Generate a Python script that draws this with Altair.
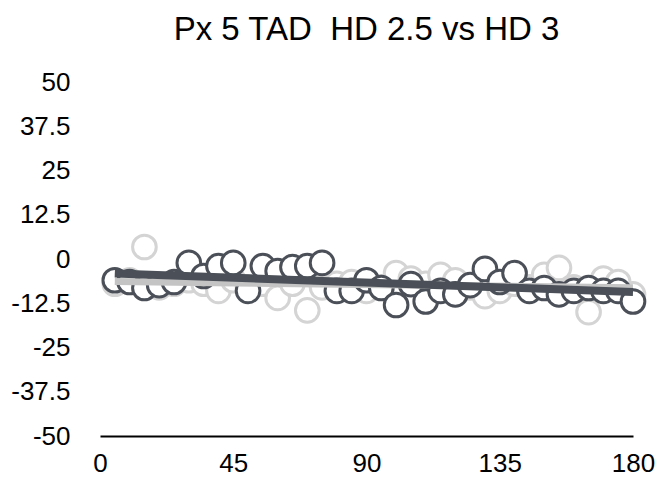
import altair as alt
import pandas as pd

x_vals = [5, 10, 15, 20, 25, 30, 35, 40, 45, 50, 55, 60, 65, 70, 75, 80, 85, 90,
          95, 100, 105, 110, 115, 120, 125, 130, 135, 140, 145, 150, 155, 160, 165, 170, 175, 180]
hd3 = [-7, -6, 3.4, -8, -7, -6, -7, -9, -6, -8, -7, -11, -7, -14.5, -8, -7, -6.5, -9,
       -8, -4, -5.5, -7, -4.5, -6, -8, -10.5, -9, -7, -8, -4.5, -2.5, -8, -15, -5.5, -6.5, -10]
hd25 = [-6, -6.5, -8.2, -7.4, -6.5, -1.1, -4.8, -2, -1.1, -9, -2, -3.4, -2.3, -2, -1.1, -9, -9, -6,
        -8.2, -13, -7.1, -12, -9, -10, -7.4, -2.8, -6.5, -4, -9, -8.2, -10, -9, -8.2, -9, -9, -12]
title_text = "Px 5 TAD \u00a0HD 2.5 vs HD 3"
x_ticks = [0, 45, 90, 135, 180]
y_ticks = [-50, -37.5, -25, -12.5, 0, 12.5, 25, 37.5, 50]

df = pd.DataFrame({"x": x_vals, "hd3": hd3, "hd25": hd25})

FONT = "Liberation Sans"
DARK = "#4b5058"
LIGHT = "#d4d4d4"
LBL = "'' + datum.value"

xenc = alt.X("x:Q", scale=alt.Scale(domain=[0, 180], nice=False),
             axis=alt.Axis(values=x_ticks, title=None, grid=False, ticks=False,
                           domain=True, domainColor="#000000", domainWidth=2,
                           labelFontSize=26, labelFont=FONT, labelColor="#000000",
                           labelPadding=14, labelFlush=False, labelExpr=LBL))
yaxis = alt.Axis(values=y_ticks, title=None, grid=False, ticks=False, domain=False,
                 labelFontSize=26, labelFont=FONT, labelColor="#000000",
                 labelPadding=30, labelFlush=False, labelExpr=LBL)
yscale = alt.Scale(domain=[-50, 50], nice=False)

base = alt.Chart(df)

light_pts = base.mark_point(shape="circle", size=560, filled=False, fill="white",
                            fillOpacity=1, stroke=LIGHT, strokeWidth=3, opacity=1).encode(
    x=xenc, y=alt.Y("hd3:Q", scale=yscale, axis=yaxis))
dark_pts = base.mark_point(shape="circle", size=560, filled=False, fill="white",
                           fillOpacity=1, stroke=DARK, strokeWidth=3, opacity=1).encode(
    x=xenc, y=alt.Y("hd25:Q", scale=yscale, axis=yaxis))
light_trend = base.transform_regression("x", "hd3").mark_line(
    color="#c4c4c4", strokeWidth=7, strokeCap="butt").encode(
    x=xenc, y=alt.Y("hd3:Q", scale=yscale, axis=yaxis))
dark_trend = base.transform_regression("x", "hd25").mark_line(
    color=DARK, strokeWidth=8, strokeCap="butt").encode(
    x=xenc, y=alt.Y("hd25:Q", scale=yscale, axis=yaxis))

chart = alt.layer(light_pts, dark_pts, light_trend, dark_trend).properties(
    width=533, height=354,
    title=alt.TitleParams(title_text, font=FONT, fontSize=33, fontWeight="normal",
                          color="#000000", anchor="middle", offset=22),
    autosize=alt.AutoSizeParams(type="none"),
    padding={"left": 100, "top": 82, "right": 24, "bottom": 43},
).configure_view(stroke=None)

chart.save("out.html", embed_options={"renderer": "svg", "actions": False})
